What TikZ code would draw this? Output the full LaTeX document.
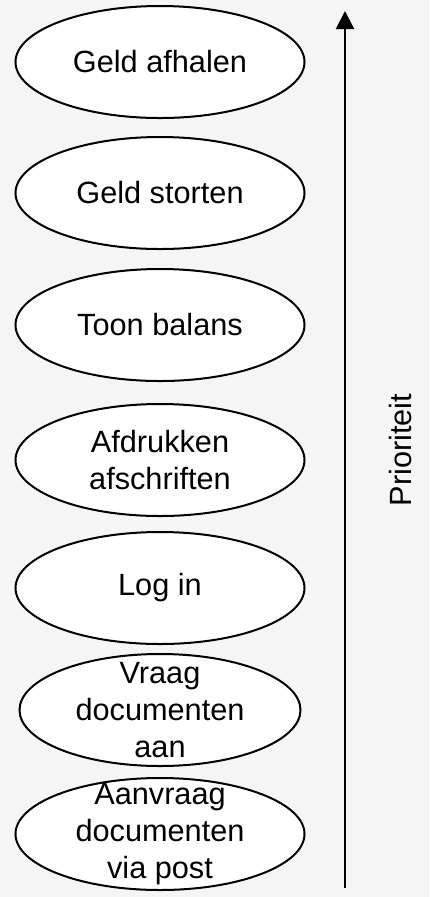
\documentclass[tikz,border=0pt]{standalone}
\usepackage{fontspec}
\setmainfont{Liberation Sans}
\usepackage{tikz}
\usetikzlibrary{shapes.geometric,arrows.meta}
\definecolor{paper}{HTML}{F5F5F5}

\begin{document}
\begin{tikzpicture}[
   x=1pt,y=1pt,
   font=\fontsize{30.7}{36.8}\selectfont,
   every matrix/.style={ampersand replacement=\&,row sep=8pt,inner sep=0pt,outer sep=0pt},
   task/.style={ellipse,draw,line width=2pt,fill=white,align=center,inner xsep=0pt,inner ysep=-12pt,minimum width=289pt,minimum height=112pt},
   prio/.style={-{Triangle[length=18pt,width=18pt]},line width=2pt}]
\fill[paper] (0,0) rectangle (429,-897);
\useasboundingbox (0,0) rectangle (429,-897);
\matrix (tasks) at (160,-5) [anchor=north] {
\node[task] (afhalen) {Geld afhalen};\\[9pt]
\node[task] (storten) {Geld storten};\\[10pt]
\node[task] (balans) {Toon balans};\\[13pt]
\node[task] (afdrukken) {Afdrukken\\afschriften};\\[6pt]
\node[task] (login) {Log in};\\
\node[task,minimum width=281pt] (vraag) {Vraag\\documenten\\aan};\\[2pt]
\node[task] (aanvraag) {Aanvraag\\documenten\\via post};\\
};
\coordinate (laag) at (345,-888);
\coordinate (hoog) at (345,-11);
\draw[prio] (laag) -- (hoog);
\node[rotate=90] (prioriteit) at (401,-450) {Prioriteit};
\end{tikzpicture}
\end{document}
